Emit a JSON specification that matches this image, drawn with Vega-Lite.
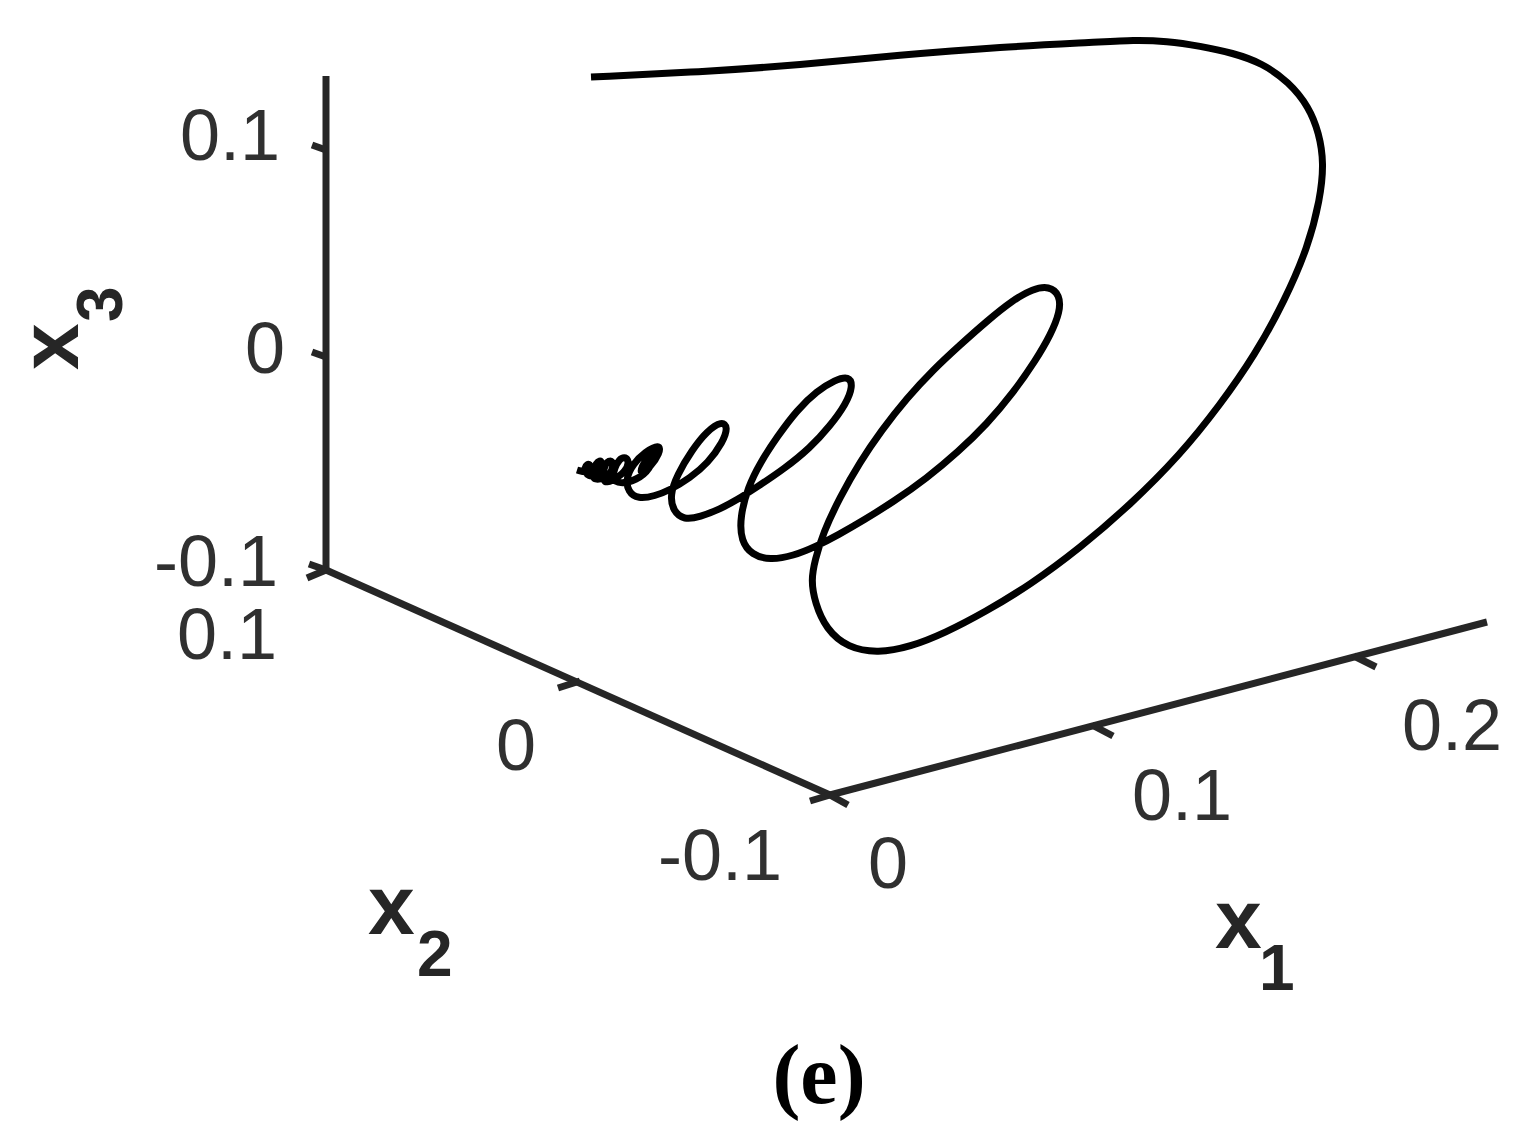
{"$schema":"https://vega.github.io/schema/vega-lite/v6.json","width":1528,"height":1136,"autosize":{"type":"fit","contains":"padding"},"padding":0,"background":"white","config":{"view":{"stroke":null}},
"datasets":{
"curve":[{"o":1,"sx":591,"sy":77},{"o":2,"sx":591,"sy":77},{"o":3,"sx":700,"sy":72},{"o":4,"sx":800,"sy":65},{"o":5,"sx":900,"sy":55},{"o":6,"sx":1000,"sy":47},{"o":7,"sx":1100,"sy":42},{"o":8,"sx":1133,"sy":40},{"o":9,"sx":1167,"sy":41},{"o":10,"sx":1200,"sy":46},{"o":11,"sx":1233,"sy":53},{"o":12,"sx":1262,"sy":63},{"o":13,"sx":1289,"sy":82},{"o":14,"sx":1309,"sy":107},{"o":15,"sx":1319,"sy":133},{"o":16,"sx":1324,"sy":163},{"o":17,"sx":1320,"sy":200},{"o":18,"sx":1308,"sy":247},{"o":19,"sx":1285,"sy":300},{"o":20,"sx":1255,"sy":355},{"o":21,"sx":1220,"sy":405},{"o":22,"sx":1180,"sy":455},{"o":23,"sx":1130,"sy":505},{"o":24,"sx":1080,"sy":548},{"o":25,"sx":1030,"sy":585},{"o":26,"sx":985,"sy":612},{"o":27,"sx":945,"sy":633},{"o":28,"sx":910,"sy":647},{"o":29,"sx":878,"sy":653},{"o":30,"sx":848,"sy":648},{"o":31,"sx":826,"sy":629},{"o":32,"sx":815,"sy":603},{"o":33,"sx":811,"sy":580},{"o":34,"sx":815,"sy":560},{"o":35,"sx":823,"sy":533},{"o":36,"sx":840,"sy":497},{"o":37,"sx":860,"sy":462},{"o":38,"sx":881,"sy":431},{"o":39,"sx":907,"sy":398},{"o":40,"sx":933,"sy":370},{"o":41,"sx":960,"sy":345},{"o":42,"sx":987,"sy":321},{"o":43,"sx":1013,"sy":300},{"o":44,"sx":1033,"sy":289},{"o":45,"sx":1049,"sy":286},{"o":46,"sx":1060,"sy":295},{"o":47,"sx":1060,"sy":312},{"o":48,"sx":1051,"sy":334},{"o":49,"sx":1036,"sy":360},{"o":50,"sx":1013,"sy":393},{"o":51,"sx":987,"sy":424},{"o":52,"sx":958,"sy":452},{"o":53,"sx":927,"sy":478},{"o":54,"sx":893,"sy":502},{"o":55,"sx":864,"sy":520},{"o":56,"sx":838,"sy":535},{"o":57,"sx":817,"sy":546},{"o":58,"sx":793,"sy":556},{"o":59,"sx":770,"sy":560},{"o":60,"sx":752,"sy":555},{"o":61,"sx":741,"sy":541},{"o":62,"sx":740,"sy":517},{"o":63,"sx":748,"sy":487},{"o":64,"sx":760,"sy":463},{"o":65,"sx":777,"sy":437},{"o":66,"sx":797,"sy":410},{"o":67,"sx":817,"sy":391},{"o":68,"sx":835,"sy":380},{"o":69,"sx":849,"sy":376},{"o":70,"sx":853,"sy":386},{"o":71,"sx":846,"sy":404},{"o":72,"sx":830,"sy":426},{"o":73,"sx":810,"sy":448},{"o":74,"sx":784,"sy":469},{"o":75,"sx":757,"sy":487},{"o":76,"sx":737,"sy":500},{"o":77,"sx":720,"sy":509},{"o":78,"sx":700,"sy":517},{"o":79,"sx":684,"sy":520},{"o":80,"sx":673,"sy":511},{"o":81,"sx":670,"sy":495},{"o":82,"sx":677,"sy":475},{"o":83,"sx":692,"sy":450},{"o":84,"sx":707,"sy":431},{"o":85,"sx":722,"sy":421},{"o":86,"sx":728,"sy":427},{"o":87,"sx":723,"sy":442},{"o":88,"sx":708,"sy":463},{"o":89,"sx":690,"sy":478},{"o":90,"sx":670,"sy":490},{"o":91,"sx":655,"sy":496},{"o":92,"sx":638,"sy":499},{"o":93,"sx":628,"sy":492},{"o":94,"sx":626,"sy":478},{"o":95,"sx":633,"sy":464},{"o":96,"sx":645,"sy":452},{"o":97,"sx":660,"sy":444},{"o":98,"sx":660,"sy":453},{"o":99,"sx":650,"sy":468},{"o":100,"sx":638,"sy":476},{"o":101,"sx":646,"sy":458},{"o":102,"sx":657,"sy":449},{"o":103,"sx":650,"sy":470},{"o":104,"sx":636,"sy":480},{"o":105,"sx":622,"sy":484},{"o":106,"sx":610,"sy":480},{"o":107,"sx":619,"sy":456},{"o":108,"sx":630,"sy":458},{"o":109,"sx":626,"sy":472},{"o":110,"sx":612,"sy":481},{"o":111,"sx":602,"sy":484},{"o":112,"sx":604,"sy":462},{"o":113,"sx":614,"sy":459},{"o":114,"sx":612,"sy":474},{"o":115,"sx":600,"sy":480},{"o":116,"sx":591,"sy":479},{"o":117,"sx":596,"sy":461},{"o":118,"sx":603,"sy":460},{"o":119,"sx":600,"sy":474},{"o":120,"sx":588,"sy":478},{"o":121,"sx":583,"sy":467},{"o":122,"sx":591,"sy":462},{"o":123,"sx":590,"sy":474},{"o":124,"sx":577,"sy":470},{"o":125,"sx":577,"sy":470}],
"axes":[{"seg":"z","o":1,"sx":326,"sy":76},{"seg":"z","o":2,"sx":326,"sy":572},{"seg":"x2","o":1,"sx":326,"sy":570},{"seg":"x2","o":2,"sx":830,"sy":795},{"seg":"x1","o":1,"sx":830,"sy":795},{"seg":"x1","o":2,"sx":1487,"sy":622},
{"seg":"tz1","o":1,"sx":312,"sy":145},{"seg":"tz1","o":2,"sx":326,"sy":150},{"seg":"tz2","o":1,"sx":312,"sy":352},{"seg":"tz2","o":2,"sx":326,"sy":357},{"seg":"tz3","o":1,"sx":309,"sy":564},{"seg":"tz3","o":2,"sx":326,"sy":570},{"seg":"t23","o":1,"sx":307,"sy":578},{"seg":"t23","o":2,"sx":326,"sy":570},{"seg":"t22","o":1,"sx":558,"sy":688},{"seg":"t22","o":2,"sx":580,"sy":681},{"seg":"t21","o":1,"sx":810,"sy":801},{"seg":"t21","o":2,"sx":830,"sy":795},{"seg":"t10","o":1,"sx":830,"sy":795},{"seg":"t10","o":2,"sx":848,"sy":805},{"seg":"t11","o":1,"sx":1092,"sy":725},{"seg":"t11","o":2,"sx":1113,"sy":736},{"seg":"t12","o":1,"sx":1354,"sy":656},{"seg":"t12","o":2,"sx":1376,"sy":667}],
"ticks":[{"sx":280,"sy":160,"t":"0.1"},{"sx":285,"sy":373,"t":"0"},{"sx":278,"sy":586,"t":"-0.1"},{"sx":277,"sy":659,"t":"0.1"},{"sx":536,"sy":770,"t":"0"},{"sx":782,"sy":880,"t":"-0.1"},{"sx":908,"sy":888,"t":"0"},{"sx":1232,"sy":820,"t":"0.1"},{"sx":1502,"sy":750,"t":"0.2"}],
"tx":[{"sx":1215,"sy":948,"t":"x"},{"sx":368,"sy":934,"t":"x"}],
"ts":[{"sx":1259,"sy":990,"t":"1"},{"sx":417,"sy":976,"t":"2"}]
},
"layer":[
{"data":{"name":"axes"},"mark":{"type":"line","stroke":"#262626","strokeWidth":7,"strokeCap":"butt"},"encoding":{"x":{"field":"sx","type":"quantitative","scale":{"domain":[0,1528],"nice":false,"zero":false},"axis":null},"y":{"field":"sy","type":"quantitative","scale":{"domain":[1136,0],"nice":false,"zero":false},"axis":null},"detail":{"field":"seg"},"order":{"field":"o"}}},
{"data":{"name":"curve"},"mark":{"type":"line","stroke":"#000000","strokeWidth":7,"interpolate":"basis"},"encoding":{"x":{"field":"sx","type":"quantitative"},"y":{"field":"sy","type":"quantitative"},"order":{"field":"o"}}},
{"data":{"name":"ticks"},"mark":{"type":"text","font":"Liberation Sans","fontSize":72,"align":"right","baseline":"alphabetic","fill":"#303030"},"encoding":{"x":{"field":"sx","type":"quantitative"},"y":{"field":"sy","type":"quantitative"},"text":{"field":"t"}}},
{"data":{"name":"tx"},"mark":{"type":"text","font":"Liberation Sans","fontWeight":"bold","fontSize":84,"align":"left","baseline":"alphabetic","fill":"#262626"},"encoding":{"x":{"field":"sx","type":"quantitative"},"y":{"field":"sy","type":"quantitative"},"text":{"field":"t"}}},
{"data":{"name":"ts"},"mark":{"type":"text","font":"Liberation Sans","fontWeight":"bold","fontSize":64,"align":"left","baseline":"alphabetic","fill":"#262626"},"encoding":{"x":{"field":"sx","type":"quantitative"},"y":{"field":"sy","type":"quantitative"},"text":{"field":"t"}}},
{"data":{"values":[{"sx":78,"sy":370,"t":"x"}]},"mark":{"type":"text","font":"Liberation Sans","fontWeight":"bold","fontSize":84,"align":"left","baseline":"alphabetic","angle":270,"fill":"#262626"},"encoding":{"x":{"field":"sx","type":"quantitative"},"y":{"field":"sy","type":"quantitative"},"text":{"field":"t"}}},
{"data":{"values":[{"sx":122,"sy":322,"t":"3"}]},"mark":{"type":"text","font":"Liberation Sans","fontWeight":"bold","fontSize":64,"align":"left","baseline":"alphabetic","angle":270,"fill":"#262626"},"encoding":{"x":{"field":"sx","type":"quantitative"},"y":{"field":"sy","type":"quantitative"},"text":{"field":"t"}}},
{"data":{"values":[{"sx":819,"sy":1103,"t":"(e)"}]},"mark":{"type":"text","font":"Liberation Serif","fontWeight":"bold","fontSize":84,"align":"center","baseline":"alphabetic","fill":"#000000"},"encoding":{"x":{"field":"sx","type":"quantitative"},"y":{"field":"sy","type":"quantitative"},"text":{"field":"t"}}}
]}
